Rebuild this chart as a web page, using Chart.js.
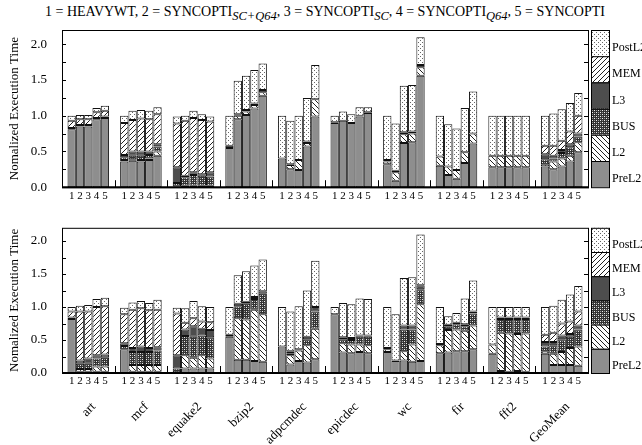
<!DOCTYPE html>
<html lang="en">
<head>
<meta charset="UTF-8" />
<title>Normalized Execution Time</title>
<script src="https://cdn.jsdelivr.net/npm/chart.js"></script>
<style>
  body {
    margin: 0;
    width: 642px;
    height: 445px;
    overflow: hidden;
    position: relative;
    background: #fff;
    font-family: "Liberation Serif", serif;
  }
  #title {
    position: absolute;
    left: 0; top: 4px;
    width: 650px;
    text-align: center;
    font-size: 14px;
    white-space: nowrap;
  }
  #title sub { font-style: italic; font-size: 12.5px; vertical-align: -4px; line-height: 0; }
  .panel { position: absolute; left: 0; }
  #topBox { top: 0; }
  #botBox { top: 205px; }
  .bench {
    position: absolute;
    font-size: 13px;
    line-height: 13px;
    white-space: nowrap;
    transform-origin: 100% 50%;
    transform: translate(-100%, -50%) rotate(-45deg);
  }
</style>
</head>
<body>
<div id="title">1 = HEAVYWT, 2 = SYNCOPTI<sub>SC+Q64</sub>, 3 = SYNCOPTI<sub>SC</sub>, 4 = SYNCOPTI<sub>Q64</sub>, 5 = SYNCOPTI</div>
<div class="panel" id="topBox"><canvas id="topChart" width="642" height="210"></canvas></div>
<div class="panel" id="botBox"><canvas id="botChart" width="642" height="240"></canvas></div>

<script>
const categories = ['art', 'mcf', 'equake2', 'bzip2', 'adpcmdec', 'epicdec', 'wc', 'fir', 'fft2', 'GeoMean'];
const barLabels = ['1', '2', '3', '4', '5'];
const segments = ['PreL2', 'L2', 'BUS', 'L3', 'MEM', 'PostL2'];
const yTicks = [0, 0.5, 1.0, 1.5, 2.0];

// upper panel, 5 bars per benchmark
const topPreL2 = [0.81,0.85,0.85,0.95,0.97, 0.36,0.37,0.36,0.38,0.44, 0.01,0.02,0.02,0.02,0.02, 0.55,0.95,1.01,1.10,1.28, 0.40,0.25,0.24,0.57,0.99,
                  0.90,0.93,0.90,0.99,1.04, 0.32,0.09,0.62,0.63,1.56, 0.30,0.17,0.12,0.34,0.61, 0.28,0.28,0.28,0.28,0.28, 0.29,0.25,0.29,0.36,0.49];
const topL2     = [0,0,0,0,0, 0.02,0.02,0.02,0.02,0.06, 0,0,0,0,0, 0,0.05,0.05,0.05,0.05, 0,0.06,0.14,0.05,0.24,
                  0,0,0,0,0, 0.04,0.12,0.12,0.12,0.12, 0.13,0.12,0.12,0.15,0.14, 0.16,0.16,0.16,0.16,0.16, 0.03,0.11,0.11,0.08,0.14];
const topBUS    = [0,0,0,0,0, 0.04,0.05,0.06,0.05,0.07, 0.05,0.12,0.15,0.14,0.13, 0,0,0,0,0, 0,0,0,0,0,
                  0,0,0,0,0, 0,0,0,0,0, 0,0,0,0,0, 0,0,0,0,0, 0.07,0.04,0.08,0.12,0.08];
const topL3     = [0.02,0.02,0.02,0.02,0.02, 0.03,0.06,0.06,0.05,0.03, 0.22,0.02,0.04,0.02,0.06, 0.03,0.02,0.02,0.02,0.03, 0,0.01,0,0.02,0,
                  0.01,0,0,0.01,0.01, 0.02,0.02,0.03,0.03,0.03, 0,0,0,0,0, 0,0,0,0,0, 0.07,0.04,0.04,0.04,0.04];
const topMEM    = [0.10,0.08,0.08,0.08,0.08, 0.45,0.44,0.46,0.45,0.42, 0.61,0.77,0.76,0.76,0.71, 0,0,0,0,0, 0,0,0,0,0,
                  0,0,0,0,0, 0,0,0,0,0, 0,0,0,0,0, 0,0,0,0,0, 0.12,0.14,0.13,0.18,0.25];
const topPostL2 = [0.07,0.06,0.06,0.06,0.07, 0.10,0.13,0.12,0.12,0.10, 0.10,0.07,0.10,0.08,0.07, 0.42,0.47,0.48,0.47,0.37, 0.60,0.61,0.62,0.61,0.48,
                  0.09,0.13,0.12,0.12,0.07, 0.62,0.66,0.65,0.65,0.39, 0.57,0.59,0.58,0.62,0.59, 0.56,0.56,0.56,0.56,0.56, 0.42,0.45,0.44,0.40,0.32];

// lower panel
const botPreL2  = [0.82,0.02,0.02,0.02,0.02, 0.36,0.02,0.02,0.02,0.02, 0.01,0.07,0.07,0.07,0.07, 0.55,0.20,0.20,0.18,0.17, 0.40,0.13,0.18,0.16,0.21,
                  0.89,0.31,0.30,0.32,0.30, 0.32,0.18,0.19,0.17,0.18, 0.30,0.31,0.33,0.33,0.36, 0.29,0.03,0.02,0.03,0.02, 0.29,0.12,0.12,0.12,0.11];
const botL2     = [0,0.04,0.04,0.08,0.08, 0,0.10,0.10,0.10,0.10, 0,0.20,0.16,0.20,0.15, 0,0.63,0.61,0.78,0.72, 0,0.14,0.16,0.26,0.46,
                  0,0.14,0.13,0.11,0.12, 0.04,0,0.14,0.26,0.86, 0.12,0.34,0.33,0.31,0.36, 0.14,0.58,0.58,0.56,0.58, 0.04,0.17,0.20,0.26,0.29];
const botBUS    = [0,0.08,0.08,0.12,0.13, 0.05,0.20,0.20,0.20,0.22, 0.06,0.29,0.32,0.30,0.32, 0,0.18,0.24,0.16,0.31, 0,0.03,0,0.09,0.26,
                  0,0.06,0.07,0.12,0.13, 0,0,0.33,0.23,0.23, 0,0.05,0.08,0.07,0.18, 0,0.21,0.22,0.23,0.22, 0.07,0.13,0.19,0.17,0.26];
const botL3     = [0.02,0.05,0.08,0.05,0.05, 0.04,0.06,0.08,0.06,0.05, 0.20,0.10,0.16,0.10,0.11, 0.03,0.04,0.03,0.03,0.04, 0,0.03,0.02,0.04,0.07,
                  0,0.03,0.03,0.02,0.02, 0.02,0.01,0.06,0.06,0.06, 0.02,0.03,0.02,0.03,0.03, 0,0.02,0.02,0.02,0.02, 0.07,0.05,0.06,0.04,0.06];
const botMEM    = [0.09,0.74,0.71,0.73,0.73, 0.44,0.58,0.58,0.57,0.57, 0.63,0.10,0.12,0.11,0.12, 0,0,0,0,0, 0,0,0,0,0,
                  0,0,0,0,0, 0,0,0,0,0, 0,0,0,0,0, 0,0,0,0,0, 0.11,0.14,0.18,0.19,0.21];
const botPostL2 = [0.07,0.09,0.10,0.12,0.13, 0.10,0.11,0.11,0.11,0.15, 0.09,0.22,0.26,0.23,0.23, 0.42,0.43,0.46,0.48,0.48, 0.60,0.60,0.65,0.70,0.70,
                  0.11,0.52,0.51,0.56,0.55, 0.62,0.70,0.72,0.73,0.77, 0.56,0.13,0.15,0.39,0.47, 0.57,0.16,0.16,0.16,0.16, 0.42,0.41,0.36,0.41,0.39];

const FONT = 'Liberation Serif';

// fill patterns like the old gnuplot/xfig style
function makePattern(size, draw) {
  const c = document.createElement('canvas');
  c.width = size; c.height = size;
  const g = c.getContext('2d');
  draw(g, size);
  return g.createPattern(c, 'repeat');
}
function hatch(back) {
  return makePattern(5, (g, s) => {
    g.fillStyle = '#fff'; g.fillRect(0, 0, s, s);
    g.strokeStyle = '#222'; g.lineWidth = 1;
    g.beginPath();
    for (let k = -s; k <= s; k += s) {
      if (back) { g.moveTo(k, 0); g.lineTo(k + s, s); }
      else { g.moveTo(k, s); g.lineTo(k + s, 0); }
    }
    g.stroke();
  });
}
const fills = {
  PreL2: '#8e8e8e',
  L2: hatch(true),
  BUS: makePattern(4, (g, s) => {
    g.fillStyle = '#333'; g.fillRect(0, 0, s, s);
    g.fillStyle = '#eee'; g.fillRect(0, 0, 1, 1); g.fillRect(2, 2, 1, 1);
    g.fillStyle = '#999'; g.fillRect(0, 2, 1, 1); g.fillRect(2, 0, 1, 1);
  }),
  L3: '#4d4d4d',
  MEM: hatch(false),
  PostL2: makePattern(4, (g, s) => {
    g.fillStyle = '#fff'; g.fillRect(0, 0, s, s);
    g.fillStyle = '#666'; g.fillRect(0, 0, 1, 1); g.fillRect(2, 2, 1, 1);
  })
};

function buildDatasets(series) {
  const ds = [];
  segments.forEach((seg, s) => {
    barLabels.forEach((lab, b) => {
      ds.push({
        label: seg,
        data: categories.map((c, i) => series[s][i * 5 + b] || null),
        stack: 'bar' + b,
        backgroundColor: fills[seg],
        borderColor: '#111',
        borderWidth: 1,
        borderSkipped: false,
        categoryPercentage: 0.79,
        barPercentage: 1.0
      });
    });
  });
  return ds;
}

// frame, inward ticks, bar numbers and the side legend
const decorations = {
  id: 'decorations',
  afterDraw(chart) {
    const { ctx, chartArea: a, scales: { x, y } } = chart;
    ctx.save();
    ctx.strokeStyle = '#000';
    ctx.lineWidth = 1;
    ctx.strokeRect(a.left + 0.5, a.top + 0.5, a.right - a.left, a.bottom - a.top);
    ctx.lineWidth = 2;
    ctx.beginPath(); ctx.moveTo(a.left, a.bottom); ctx.lineTo(a.right + 1, a.bottom); ctx.stroke();

    ctx.lineWidth = 1;
    for (let v = 0.25; v <= 2.001; v += 0.25) {
      const py = Math.round(y.getPixelForValue(v)) + 0.5;
      ctx.beginPath();
      ctx.moveTo(a.left, py); ctx.lineTo(a.left + 4, py);
      ctx.moveTo(a.right, py); ctx.lineTo(a.right - 4, py);
      ctx.stroke();
    }
    for (let i = 1; i < categories.length; i++) {
      const px = Math.round((x.getPixelForValue(i - 1) + x.getPixelForValue(i)) / 2) + 0.5;
      ctx.beginPath(); ctx.moveTo(px, a.bottom); ctx.lineTo(px, a.bottom - 7); ctx.stroke();
    }

    ctx.fillStyle = '#000';
    ctx.font = '11px "' + FONT + '"';
    ctx.textAlign = 'center';
    ctx.textBaseline = 'top';
    barLabels.forEach((lab, b) => {
      chart.getDatasetMeta(b).data.forEach(el => ctx.fillText(lab, el.x, a.bottom + 3));
    });

    const lx = a.right + 3, lw = 18, ch = (a.bottom - a.top) / segments.length;
    ctx.font = '12px "' + FONT + '"';
    ctx.textAlign = 'left';
    ctx.textBaseline = 'middle';
    segments.slice().reverse().forEach((seg, k) => {
      const ty = a.top + k * ch;
      ctx.fillStyle = fills[seg];
      ctx.fillRect(lx, ty, lw, ch);
      ctx.strokeRect(lx + 0.5, ty + 0.5, lw, ch);
      ctx.fillStyle = '#000';
      ctx.fillText(seg, lx + lw + 3, ty + ch / 2 + 5);
    });
    ctx.restore();
  }
};

function makeChart(id, series, padTop, xHeight) {
  return new Chart(document.getElementById(id), {
    type: 'bar',
    data: { labels: categories, datasets: buildDatasets(series) },
    options: {
      responsive: false,
      animation: false,
      layout: { padding: { left: 0, right: 54, top: padTop, bottom: 0 } },
      plugins: { legend: { display: false }, tooltip: { enabled: false } },
      scales: {
        x: {
          stacked: true,
          afterFit(scale) { scale.height = xHeight; },
          grid: { display: false, drawTicks: false },
          border: { display: false },
          ticks: { display: false }
        },
        y: {
          stacked: true,
          min: 0,
          max: 2.2,
          afterFit(scale) { scale.width = 62; },
          afterBuildTicks(scale) { scale.ticks = yTicks.map(v => ({ value: v })); },
          grid: { display: false, drawTicks: false },
          border: { display: false },
          ticks: {
            padding: 15,
            color: '#000',
            font: { family: FONT, size: 13 },
            callback: v => Number(v).toFixed(1)
          },
          title: {
            display: true,
            text: 'Nomalized Execution Time',
            color: '#000',
            font: { family: FONT, size: 13 },
            padding: { top: 7, bottom: 0 }
          }
        }
      }
    },
    plugins: [decorations]
  });
}

makeChart('topChart', [topPreL2, topL2, topBUS, topL3, topMEM, topPostL2], 30, 18);
const bottom = makeChart('botChart', [botPreL2, botL2, botBUS, botL3, botMEM, botPostL2], 7, 72);

// slanted benchmark names under the lower panel, placed from its x scale
const boxTop = 205;
categories.forEach((name, i) => {
  const el = document.createElement('div');
  el.className = 'bench';
  el.textContent = name;
  el.style.left = (bottom.scales.x.getPixelForValue(i) + 5) + 'px';
  el.style.top = (boxTop + bottom.chartArea.bottom + 31) + 'px';
  document.body.appendChild(el);
});
</script>
</body>
</html>
